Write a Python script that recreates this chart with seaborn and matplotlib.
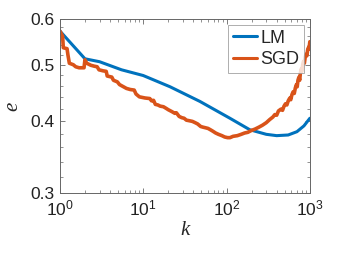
import numpy as np
import pandas as pd
import matplotlib
matplotlib.use("Agg")
import matplotlib.pyplot as plt
import seaborn as sns
from matplotlib.ticker import FixedLocator, LogLocator, NullFormatter, FixedFormatter

# ---------------------------------------------------------------- data
lm_k = [1, 2, 3, 5.5, 10, 21, 48, 110, 190, 300, 400, 550, 700, 850, 1000]
lm_e = [0.572, 0.512, 0.506, 0.490, 0.479, 0.458, 0.432, 0.404, 0.386,
        0.379, 0.377, 0.378, 0.383, 0.392, 0.404]

sgd_k = [1, 1.08, 1.1, 1.22, 1.25, 1.3, 1.45, 1.55, 1.7, 1.95, 2.0, 2.1,
         2.35, 2.6, 2.8, 2.95, 3.3, 3.6, 3.7, 4.2, 4.4, 4.9, 5.2, 5.8, 6.3,
         7.0, 7.8, 8.2, 9.0, 10.5, 12, 12.6, 13.3, 14, 15, 16, 17.5, 19, 20,
         22, 24, 25, 27, 29, 31, 33, 36, 39, 42, 45, 49, 52, 56, 60, 64, 68,
         74, 80, 88, 95, 103, 110, 120, 135, 150, 165, 180, 200, 220, 245,
         270, 300, 330, 360, 380, 400, 420, 450, 470, 490, 510, 530, 550, 575,
         590, 610, 630, 650, 670, 690, 705, 720, 740, 755, 770, 790, 805, 820,
         840, 860, 880, 900, 920, 940, 960, 975, 1000]
sgd_e = [0.572, 0.560, 0.535, 0.533, 0.520, 0.503, 0.500, 0.496, 0.494,
         0.494, 0.510, 0.503, 0.499, 0.497, 0.496, 0.490, 0.488, 0.487, 0.478,
         0.476, 0.470, 0.467, 0.462, 0.458, 0.455, 0.453, 0.452, 0.445, 0.440,
         0.438, 0.437, 0.433, 0.434, 0.427, 0.426, 0.424, 0.423, 0.420, 0.418,
         0.415, 0.412, 0.413, 0.407, 0.405, 0.404, 0.401, 0.400, 0.399, 0.397,
         0.395, 0.391, 0.390, 0.389, 0.388, 0.386, 0.384, 0.381, 0.379, 0.377,
         0.375, 0.374, 0.374, 0.376, 0.377, 0.379, 0.381, 0.382, 0.385, 0.387,
         0.390, 0.393, 0.397, 0.402, 0.406, 0.410, 0.409, 0.416, 0.419, 0.417,
         0.424, 0.428, 0.426, 0.433, 0.438, 0.435, 0.444, 0.449, 0.446, 0.456,
         0.462, 0.458, 0.470, 0.476, 0.470, 0.484, 0.492, 0.487, 0.500, 0.507,
         0.503, 0.516, 0.521, 0.518, 0.530, 0.535, 0.532, 0.548]

y_major = [0.3, 0.4, 0.5, 0.6]
y_labels = ["0.3", "0.4", "0.5", "0.6"]
y_minor = [0.32, 0.34, 0.36, 0.38, 0.42, 0.44, 0.46, 0.48,
           0.52, 0.54, 0.56, 0.58]

df = pd.concat([
    pd.DataFrame({"k": lm_k, "e": lm_e, "method": "LM"}),
    pd.DataFrame({"k": sgd_k, "e": sgd_e, "method": "SGD"}),
], ignore_index=True)

# ---------------------------------------------------------------- style
sns.set_theme(style="ticks")
plt.rcParams["font.family"] = ["Liberation Sans", "DejaVu Sans"]
plt.rcParams["mathtext.fontset"] = "custom"
plt.rcParams["mathtext.rm"] = "Liberation Sans"
plt.rcParams["mathtext.it"] = "Liberation Sans:italic"

AX_COL = "#666666"

fig = plt.figure(figsize=(3.42, 2.56), dpi=100)
ax = fig.add_axes([0.175, 0.246, 0.731, 0.68])

sns.lineplot(data=df, x="k", y="e", hue="method",
             palette={"LM": "#0072BD", "SGD": "#D95319"},
             estimator=None, sort=False, linewidth=2.2, ax=ax)
ax.lines[1].set_linewidth(2.6)

ax.set_xscale("log")
ax.set_yscale("log")
ax.set_xlim(1, 1000)
ax.set_ylim(0.3, 0.6)

ax.yaxis.set_major_locator(FixedLocator(y_major))
ax.yaxis.set_major_formatter(FixedFormatter(y_labels))
ax.yaxis.set_minor_locator(FixedLocator(y_minor))
ax.yaxis.set_minor_formatter(NullFormatter())
ax.xaxis.set_major_locator(LogLocator(base=10, numticks=10))
ax.xaxis.set_minor_locator(LogLocator(base=10, subs=np.arange(2, 10), numticks=10))
ax.xaxis.set_minor_formatter(NullFormatter())

ax.tick_params(which="both", direction="in", top=True, right=True,
               color=AX_COL, labelsize=12.5, labelcolor="#222222")
ax.tick_params(which="major", length=3.5, width=0.6)
ax.tick_params(which="minor", length=2, width=0.5)
ax.tick_params(axis="x", pad=4)
for s in ax.spines.values():
    s.set_visible(True)
    s.set_color(AX_COL)
    s.set_linewidth(0.7)

ax.set_xlabel("k", family="Liberation Serif", style="italic", fontsize=15,
              labelpad=2)
ax.set_ylabel("e", family="Liberation Serif", style="italic", fontsize=15,
              labelpad=6)

leg = ax.legend(loc="upper right", fontsize=13, frameon=True, fancybox=False,
                handlelength=1.35, handletextpad=0.15, labelspacing=0.25,
                borderpad=0.25, borderaxespad=0.35, title=None)
leg.get_frame().set_edgecolor("#999999")
leg.get_frame().set_linewidth(0.7)
for h in leg.get_lines():
    h.set_linewidth(2.2)

fig.savefig("out.png", dpi=100)
